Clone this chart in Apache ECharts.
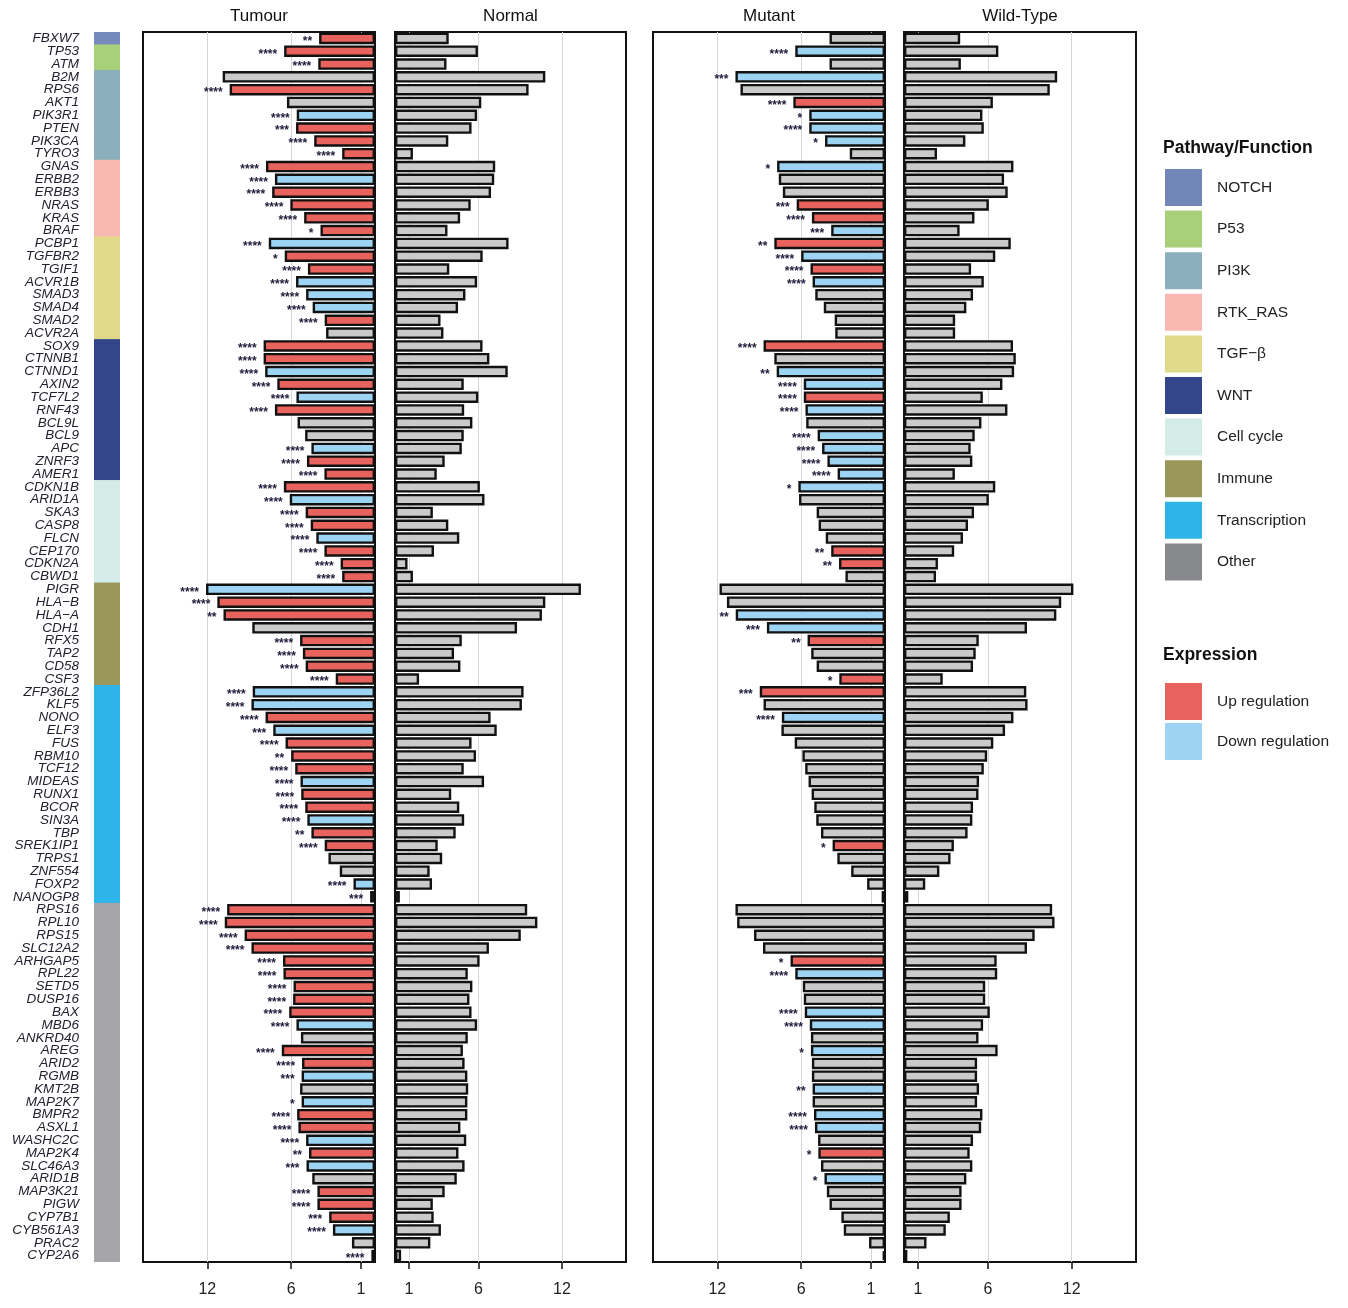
<!DOCTYPE html>
<html><head><meta charset="utf-8">
<script src="https://cdn.jsdelivr.net/npm/echarts@6/dist/echarts.min.js"></script>
<style>html,body{margin:0;padding:0;background:#fff}#c{width:1348px;height:1308px}</style>
</head><body><div id="c"></div>
<script>
const genes = ['FBXW7','TP53','ATM','B2M','RPS6','AKT1','PIK3R1','PTEN','PIK3CA','TYRO3',
'GNAS','ERBB2','ERBB3','NRAS','KRAS','BRAF','PCBP1','TGFBR2','TGIF1','ACVR1B',
'SMAD3','SMAD4','SMAD2','ACVR2A','SOX9','CTNNB1','CTNND1','AXIN2','TCF7L2','RNF43',
'BCL9L','BCL9','APC','ZNRF3','AMER1','CDKN1B','ARID1A','SKA3','CASP8','FLCN',
'CEP170','CDKN2A','CBWD1','PIGR','HLA\u2212B','HLA\u2212A','CDH1','RFX5','TAP2','CD58',
'CSF3','ZFP36L2','KLF5','NONO','ELF3','FUS','RBM10','TCF12','MIDEAS','RUNX1',
'BCOR','SIN3A','TBP','SREK1IP1','TRPS1','ZNF554','FOXP2','NANOGP8','RPS16','RPL10',
'RPS15','SLC12A2','ARHGAP5','RPL22','SETD5','DUSP16','BAX','MBD6','ANKRD40','AREG',
'ARID2','RGMB','KMT2B','MAP2K7','BMPR2','ASXL1','WASHC2C','MAP2K4','SLC46A3','ARID1B',
'MAP3K21','PIGW','CYP7B1','CYB561A3','PRAC2','CYP2A6'];

const pathwayNames = ['NOTCH','P53','PI3K','RTK_RAS','TGF\u2212\u03b2','WNT','Cell cycle','Immune','Transcription','Other'];
const pathwayColors = ['#7286B8','#A8CF79','#8CAFBE','#F8B9B2','#E0D98A','#34468A','#D4ECE8','#9A975A','#2EB5E8','#88898D'];
const stripColors   = ['#7589BD','#A8CF79','#8CAFBE','#F8B9B2','#E0D98A','#34468A','#D4ECE8','#9A975A','#2EB5E8','#A6A6AA'];
// genes per pathway, in row order
const pathwayCounts = [1,2,7,6,8,11,8,8,17,28];

const tumour = [4.0,6.5,4.06,10.9,10.4,6.3,5.6,5.65,4.35,2.35,
7.8,7.16,7.36,6.06,5.07,3.9,7.6,6.46,4.8,5.65,
4.93,4.46,3.6,3.5,7.97,7.97,7.86,6.99,5.62,7.16,
5.54,5.0,4.55,4.87,3.62,6.52,6.1,4.96,4.6,4.2,
3.62,2.46,2.35,12.09,11.28,10.84,8.78,5.36,5.16,4.96,
2.81,8.75,8.84,7.83,7.28,6.4,6.0,5.71,5.33,5.28,
4.99,4.84,4.55,3.6,3.33,2.52,1.54,0.35,10.58,10.75,
9.33,8.84,6.58,6.55,5.83,5.86,6.14,5.62,5.3,6.67,
5.22,5.25,5.36,5.25,5.57,5.48,4.93,4.72,4.9,4.49,
4.12,4.12,3.28,3.01,1.65,0.26];
const tumourExpr = ['U','U','U','N','U','N','D','U','U','U',
'U','D','U','U','U','U','D','U','U','D',
'D','D','U','N','U','U','D','U','D','U',
'N','N','D','U','U','U','D','U','U','D',
'U','U','U','D','U','U','N','U','U','U',
'U','D','D','U','D','U','U','U','D','U',
'U','D','U','U','N','N','D','D','U','U',
'U','U','U','U','U','U','U','D','N','U',
'U','D','N','D','U','U','D','U','D','N',
'U','U','U','D','N','D'];
const tumourSig = ['**','****','****','','****','','****','***','****','****',
'****','****','****','****','****','*','****','*','****','****',
'****','****','****','','****','****','****','****','****','****',
'','','****','****','****','****','****','****','****','****',
'****','****','****','****','****','**','','****','****','****',
'****','****','****','****','***','****','**','****','****','****',
'****','****','**','****','','','****','***','****','****',
'****','****','****','****','****','****','****','****','','****',
'****','***','','*','****','****','****','**','***','',
'****','****','***','****','','****'];

const normal = [3.86,5.96,3.7,10.8,9.6,6.2,5.9,5.5,3.83,1.29,
7.2,7.13,6.9,5.44,4.68,3.77,8.16,6.3,3.9,5.9,
5.06,4.53,3.27,3.48,6.29,6.78,8.1,4.94,5.99,4.97,
5.56,4.94,4.8,3.57,3.0,6.1,6.43,2.72,3.83,4.62,
2.8,0.9,1.29,13.36,10.8,10.56,8.77,4.8,4.24,4.7,
1.73,9.24,9.12,6.87,7.31,5.5,5.82,4.94,6.4,4.04,
4.62,4.97,4.36,3.07,3.39,2.49,2.66,0.35,9.5,10.23,
9.04,6.75,6.08,5.23,5.56,5.35,5.5,5.9,5.23,4.88,
5.0,5.2,5.26,5.2,5.2,4.7,5.12,4.56,5.0,4.44,
3.57,2.72,2.78,3.3,2.54,0.44];

const mutant = [3.97,6.42,3.97,10.7,10.34,6.56,5.42,5.42,4.29,2.52,
7.72,7.6,7.31,6.32,5.23,3.85,7.92,6.0,5.33,5.18,
4.99,4.38,3.6,3.56,8.69,7.92,7.75,5.81,5.81,5.69,
5.64,4.82,4.5,4.12,3.39,6.2,6.15,4.89,4.75,4.24,
3.85,3.29,2.83,11.84,11.31,10.68,8.45,5.54,5.28,4.89,
3.27,8.96,8.69,7.38,7.41,6.46,5.91,5.71,5.47,5.25,
5.06,4.92,4.58,3.75,3.41,2.42,1.28,0.24,10.7,10.58,
9.37,8.73,6.76,6.42,5.88,5.81,5.74,5.38,5.3,5.3,
5.23,5.23,5.18,5.18,5.08,5.01,4.79,4.77,4.58,4.33,
4.16,3.97,3.12,2.95,1.14,0.17];
const mutantExpr = ['N','D','N','D','N','U','D','D','D','N',
'D','N','N','U','U','D','U','D','U','D',
'N','N','N','N','U','N','D','D','U','D',
'N','D','D','D','D','D','N','N','N','N',
'U','U','N','N','N','D','D','U','N','N',
'U','U','N','D','N','N','N','N','N','N',
'N','N','N','U','N','N','N','N','N','N',
'N','N','U','D','N','N','D','D','N','D',
'N','N','D','N','D','D','N','U','N','D',
'N','N','N','N','N','N'];
const mutantSig = ['','****','','***','','****','*','****','*','',
'*','','','***','****','***','**','****','****','****',
'','','','','****','','**','****','****','****',
'','****','****','****','****','*','','','','',
'**','**','','','','**','***','**','','',
'*','***','','****','','','','','','',
'','','','*','','','','','','',
'','','*','****','','','****','****','','*',
'','','**','','****','****','','*','','*',
'','','','','',''];

const wildType = [4.02,6.75,4.07,10.96,10.43,6.36,5.61,5.71,4.39,2.36,
7.83,7.16,7.42,6.07,5.04,3.98,7.64,6.53,4.8,5.71,
4.94,4.46,3.66,3.66,7.8,8.0,7.88,7.04,5.64,7.4,
5.54,5.06,4.77,4.89,3.64,6.53,6.07,5.01,4.58,4.22,
3.59,2.43,2.29,12.12,11.25,10.9,8.8,5.35,5.13,4.94,
2.77,8.75,8.84,7.83,7.23,6.39,5.95,5.71,5.37,5.33,
4.94,4.89,4.55,3.57,3.33,2.53,1.52,0.31,10.6,10.77,
9.35,8.8,6.63,6.67,5.81,5.81,6.14,5.66,5.33,6.7,
5.23,5.23,5.37,5.23,5.61,5.52,4.94,4.7,4.89,4.46,
4.12,4.12,3.28,2.99,1.61,0.24];

const panelTitles = ['Tumour','Normal','Mutant','Wild-Type'];
const tickValues = [1,6,12];
const exprNames = ['Up regulation','Down regulation'];
const exprColors = {U:'#E8635D', D:'#9DD4F3', N:'#CACACA'};

// ---- build ----
const geneStrip = [];
pathwayCounts.forEach((n,pi)=>{ for(let k=0;k<n;k++) geneStrip.push(pi); });

const FONT = "'Liberation Sans', Arial, Helvetica, sans-serif";
const TOP = 32, H = 1230, XMAX = 16.6;
const panels = [
  {left:143, width:232, inverse:true},
  {left:395, width:231, inverse:false},
  {left:653, width:232, inverse:true},
  {left:904, width:232, inverse:false}
];

const grid = [{left:94, width:26, top:TOP, height:H}];
panels.forEach(p=>grid.push({left:p.left, width:p.width, top:TOP, height:H, show:true, borderColor:'#111', borderWidth:2, backgroundColor:'transparent'}));

const xAxis = [{gridIndex:0, type:'value', min:0, max:1, show:false}];
panels.forEach((p,i)=>xAxis.push({
  gridIndex:i+1, type:'value', min:0, max:XMAX, inverse:p.inverse,
  axisLine:{show:false}, splitLine:{show:false},
  axisTick:{show:true, customValues:tickValues, length:7, lineStyle:{color:'#111', width:1.5}},
  axisLabel:{show:true, customValues:tickValues, margin:20, fontSize:16, color:'#222', fontFamily:FONT}
}));

const yAxis = [{gridIndex:0, type:'category', data:genes, inverse:true,
  axisLine:{show:false}, axisTick:{show:false},
  axisLabel:{show:true, interval:0, margin:15, fontSize:13.5, fontStyle:'italic', color:'#22222f', fontFamily:FONT}}];
panels.forEach((p,i)=>yAxis.push({gridIndex:i+1, type:'category', data:genes, inverse:true,
  axisLine:{show:false}, axisTick:{show:false}, axisLabel:{show:false}, splitLine:{show:false}}));

function barSeries(idx, values, expr, sig){
  return {
    type:'bar', xAxisIndex:idx, yAxisIndex:idx, barWidth:11.5, z:3, silent:true, animation:false,
    itemStyle:{borderColor:'#111', borderWidth:2.4},
    label:{show:false, position:'left', distance:7, fontSize:12, fontWeight:'bold', color:'#1c1c3a', fontFamily:FONT, offset:[0,3]},
    data: values.map((v,i)=>{
      const e = expr ? expr[i] : 'N';
      const s = sig ? sig[i] : '';
      const d = {value:v, itemStyle:{color:exprColors[e]}};
      if (s) d.label = {show:true, formatter:s};
      return d;
    }),
    markLine:{silent:true, symbol:'none', z:1, animation:false, label:{show:false},
      lineStyle:{color:'#D6D6D6', width:1, type:'solid'},
      data: tickValues.map(t=>({xAxis:t}))}
  };
}

const series = [
  {type:'bar', xAxisIndex:0, yAxisIndex:0, barWidth:13.6, silent:true, animation:false,
   data: geneStrip.map(pi=>({value:1, itemStyle:{color:stripColors[pi]}}))},
  barSeries(1, tumour, tumourExpr, tumourSig),
  barSeries(2, normal, null, null),
  barSeries(3, mutant, mutantExpr, mutantSig),
  barSeries(4, wildType, null, null)
];

const graphic = [];
panels.forEach((p,i)=>graphic.push({type:'text', x:p.left+p.width/2, y:16,
  style:{text:panelTitles[i], align:'center', verticalAlign:'middle', font:"17px "+FONT, fill:'#111'}}));
// legend: pathways
graphic.push({type:'text', x:1163, y:148, style:{text:'Pathway/Function', align:'left', verticalAlign:'middle', font:"bold 17.5px "+FONT, fill:'#111'}});
pathwayNames.forEach((n,i)=>{
  const y = 169 + i*41.6;
  graphic.push({type:'rect', shape:{x:1165, y:y, width:37, height:37}, style:{fill:pathwayColors[i]}});
  graphic.push({type:'text', x:1217, y:y+18.5, style:{text:n, align:'left', verticalAlign:'middle', font:"15.5px "+FONT, fill:'#222'}});
});
graphic.push({type:'text', x:1163, y:655, style:{text:'Expression', align:'left', verticalAlign:'middle', font:"bold 17.5px "+FONT, fill:'#111'}});
exprNames.forEach((n,i)=>{
  const y = 683 + i*40;
  graphic.push({type:'rect', shape:{x:1165, y:y, width:37, height:37}, style:{fill:[exprColors.U, exprColors.D][i]}});
  graphic.push({type:'text', x:1217, y:y+18.5, style:{text:n, align:'left', verticalAlign:'middle', font:"15.5px "+FONT, fill:'#222'}});
});

const chart = echarts.init(document.getElementById('c'), null, {renderer:'canvas'});
chart.setOption({animation:false, backgroundColor:'#fff', grid, xAxis, yAxis, series, graphic});
</script></body></html>
